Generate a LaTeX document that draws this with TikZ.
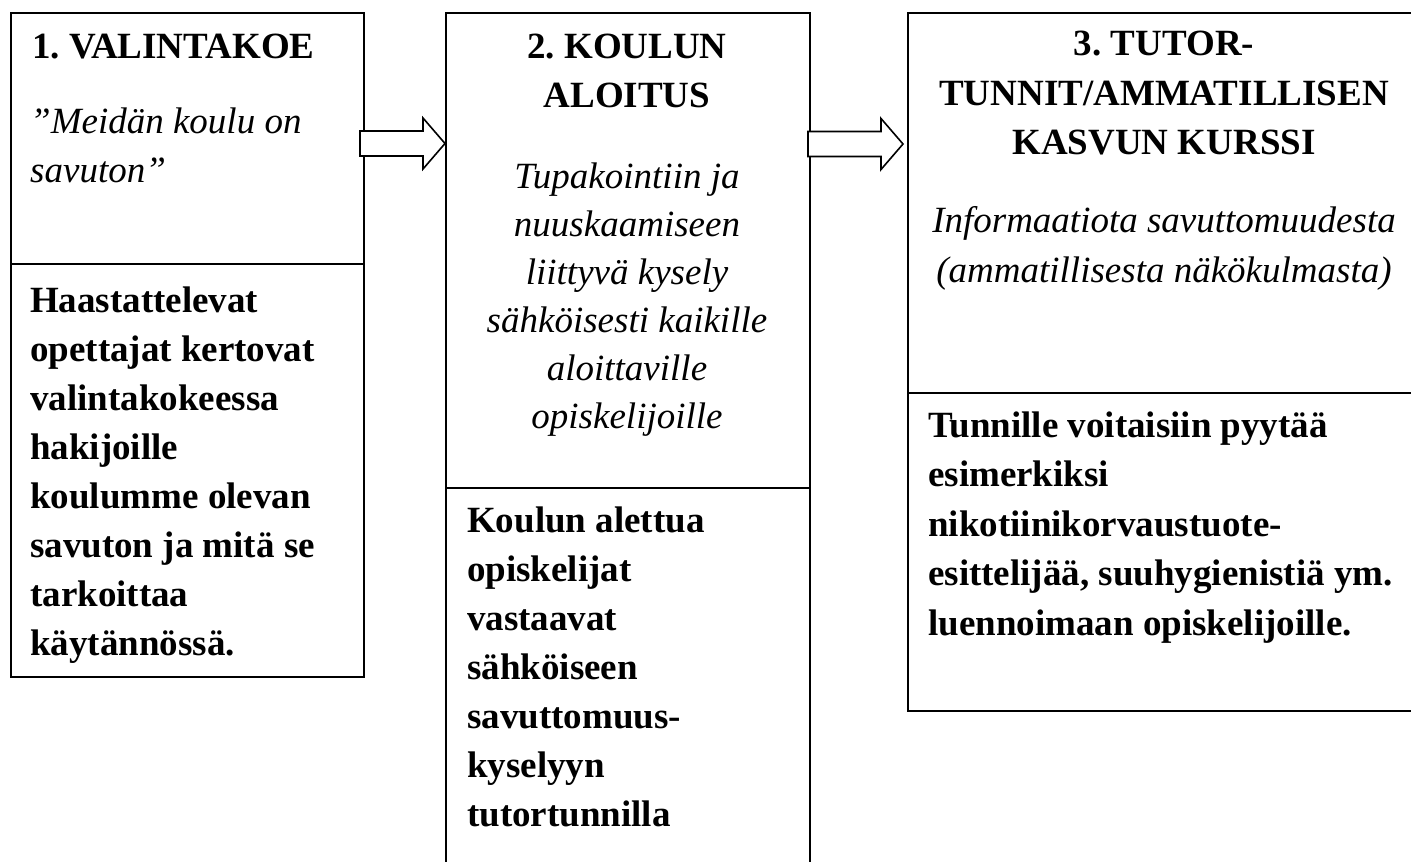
\documentclass[tikz,border=0pt]{standalone}
\usepackage{fontspec}
\setmainfont{Liberation Serif}
\usetikzlibrary{calc}
\frenchspacing
\newcommand{\lblock}[3]{\parbox[t]{#1}{\raggedright\frenchspacing\fontsize{37}{#2}\selectfont #3}}
\newcommand{\cblock}[3]{\parbox[t]{#1}{\centering\frenchspacing\fontsize{37}{#2}\selectfont #3}}
\tikzset{
  frame/.style={draw, line width=1.8pt, inner sep=0pt, anchor=north west},
  ltxt/.style={inner sep=0pt, anchor=base west},
  ctxt/.style={inner sep=0pt, anchor=base},
  blockarrow/.style={draw, line width=1.6pt, fill=white, line join=miter,
    to path={let \p1=(\tikztostart), \p2=(\tikztotarget) in
      (\x1,\y1+12.5pt) -- (\x2-22pt,\y1+12.5pt) -- (\x2-22pt,\y1+25.5pt) -- (\x2,\y1)
      -- (\x2-22pt,\y1-25.5pt) -- (\x2-22pt,\y1-12.5pt) -- (\x1,\y1-12.5pt) -- cycle}}
}
\begin{document}
\begin{tikzpicture}[x=1pt,y=-1pt]
\useasboundingbox (0,0) rectangle (1411,862);
\clip (0,0) rectangle (1411,862);
\fill[white] (0,0) rectangle (1411,862);
% boxes
\node[frame, minimum width=353pt, minimum height=251pt] (b1t) at (10,12) {};
\node[frame, minimum width=353pt, minimum height=413pt] (b1b) at (10,263) {};
\node[frame, minimum width=364pt, minimum height=475pt] (b2t) at (445,12) {};
\node[frame, minimum width=364pt, minimum height=400pt] (b2b) at (445,487) {};
\node[frame, minimum width=515pt, minimum height=380pt] (b3t) at (907,12) {};
\node[frame, minimum width=515pt, minimum height=318pt] (b3b) at (907,392) {};
% box 1 texts
\node[ltxt] (h1) at (32,58) {\lblock{330pt}{49pt}{\bfseries 1. VALINTAKOE}};
\node[ltxt] (i1) at (30,133) {\lblock{330pt}{49pt}{\itshape ”Meidän koulu on\\savuton”}};
\node[ltxt] (t1) at (30,312) {\lblock{330pt}{49pt}{\bfseries Haastattelevat\\opettajat kertovat\\valintakokeessa\\hakijoille\\koulumme olevan\\savuton ja mitä se\\tarkoittaa\\käytännössä.}};
% box 2 texts
\node[ctxt] (h2) at (627,58) {\cblock{360pt}{49pt}{\bfseries 2. KOULUN\\ALOITUS}};
\node[ctxt] (i2) at (627,188) {\cblock{360pt}{48pt}{\itshape Tupakointiin ja\\nuuskaamiseen\\liittyvä kysely\\sähköisesti kaikille\\aloittaville\\opiskelijoille}};
\node[ltxt] (t2) at (467,532) {\lblock{340pt}{49pt}{\bfseries Koulun alettua\\opiskelijat\\vastaavat\\sähköiseen\\savuttomuus-\\kyselyyn\\tutortunnilla}};
% box 3 texts
\node[ctxt] (h3) at (1164,55) {\cblock{510pt}{50pt}{\bfseries 3. TUTOR-\\TUNNIT/AMMATILLISEN\\KASVUN KURSSI}};
\node[ctxt] (i3) at (1164,232) {\cblock{510pt}{50pt}{\itshape Informaatiota savuttomuudesta\\(ammatillisesta näkökulmasta)}};
\node[ltxt] (t3) at (928,437) {\lblock{480pt}{49.5pt}{\bfseries Tunnille voitaisiin pyytää\\esimerkiksi\\nikotiinikorvaustuote-\\esittelijää, suuhygienistiä ym.\\luennoimaan opiskelijoille.}};
% arrows
\coordinate (a1s) at (360,143.5);
\coordinate (a1e) at (b2t.west |- a1s);
\coordinate (a2s) at (808,144);
\coordinate (a2e) at (903,144);
\draw[blockarrow] (a1s) to (a1e);
\draw[blockarrow] (a2s) to (a2e);
\end{tikzpicture}
\end{document}
